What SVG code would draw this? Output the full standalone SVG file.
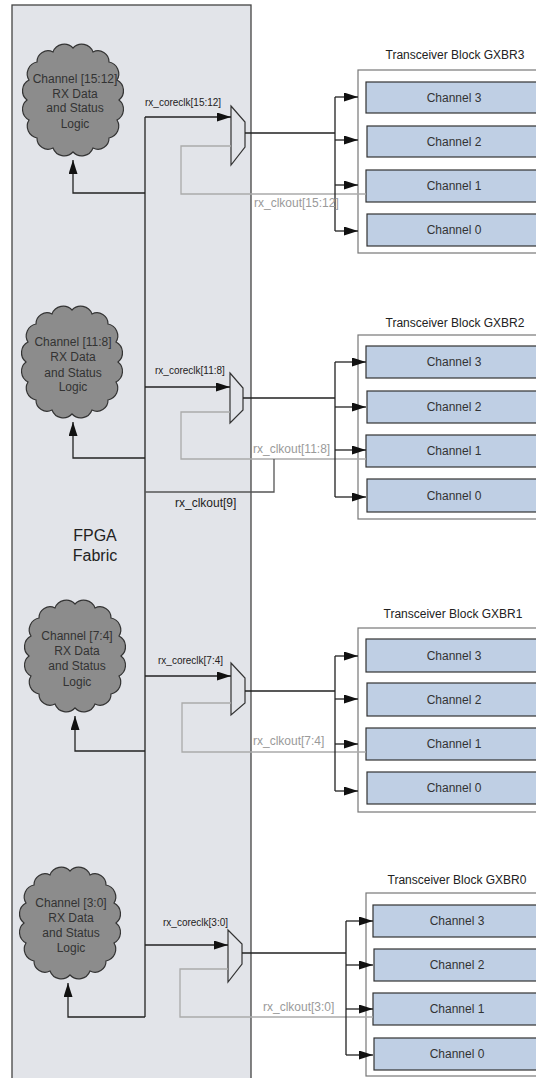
<svg xmlns="http://www.w3.org/2000/svg" xmlns:xlink="http://www.w3.org/1999/xlink" width="536" height="1078" viewBox="0 0 536 1078">
<style>
text{font-family:"Liberation Sans",Arial,sans-serif;}
.cl{font-size:12px;fill:#333;text-anchor:middle;}
.ch{font-size:12px;fill:#333;text-anchor:middle;}
.ti{font-size:12px;fill:#222;text-anchor:middle;}
.lb{font-size:10px;fill:#222;}
.gl{font-size:12px;fill:#9a9a9a;}
.bl{font-size:12px;fill:#222;}
.fab{font-size:16px;fill:#222;text-anchor:middle;}
.cloud{fill:#8c8c8c;stroke:#333;stroke-width:1.2;}
.box{fill:#fff;stroke:#777;stroke-width:1.2;}
.chan{fill:#bfcfe4;stroke:#333;stroke-width:1.2;}
.mux{fill:#e2e4e9;stroke:#333;stroke-width:1.2;}
.k{fill:none;stroke:#222;stroke-width:1.3;}
.g{fill:none;stroke:#aaa;stroke-width:1.3;}
.d{fill:none;stroke:#555;stroke-width:1.3;}
.ka{fill:none;stroke:#222;stroke-width:1.3;marker-end:url(#ah);}
</style>
<defs>
<marker id="ah" markerUnits="userSpaceOnUse" markerWidth="15" markerHeight="9" refX="14" refY="4.5" orient="auto">
<path d="M0,0 L14,4.5 L0,9 z" fill="#111"/>
</marker>
<path id="cloudShape" d="M30,12 A12,12 0 0 1 50,8 A12,12 0 0 1 70,12 A11,11 0 0 1 86,22 A12,12 0 0 1 94,40 A12,12 0 0 1 96,60 A12,12 0 0 1 94,80 A12,12 0 0 1 86,98 A11,11 0 0 1 70,108 A12,12 0 0 1 50,112 A12,12 0 0 1 30,108 A11,11 0 0 1 14,98 A12,12 0 0 1 6,80 A12,12 0 0 1 4,60 A12,12 0 0 1 6,40 A12,12 0 0 1 14,22 A11,11 0 0 1 30,12 Z"/>
</defs>

<g id="fpga">
<rect x="12" y="5" width="239" height="1080" fill="#e2e4e9" stroke="#444" stroke-width="1.3"/>
<text class="fab" x="95" y="541">FPGA</text>
<text class="fab" x="95" y="561">Fabric</text>
</g>

<g id="cloud3">
<use xlink:href="#cloudShape" class="cloud" transform="translate(23,40)"/>
<text class="cl" x="75" y="83">Channel [15:12]</text>
<text class="cl" x="75" y="98">RX Data</text>
<text class="cl" x="75" y="112">and Status</text>
<text class="cl" x="75" y="128">Logic</text>
</g>
<g id="cloud2">
<use xlink:href="#cloudShape" class="cloud" transform="translate(22,302)"/>
<text class="cl" x="73" y="346">Channel [11:8]</text>
<text class="cl" x="73" y="361">RX Data</text>
<text class="cl" x="73" y="377">and Status</text>
<text class="cl" x="73" y="391">Logic</text>
</g>
<g id="cloud1">
<use xlink:href="#cloudShape" class="cloud" transform="translate(25,596)"/>
<text class="cl" x="77" y="640">Channel [7:4]</text>
<text class="cl" x="77" y="655">RX Data</text>
<text class="cl" x="77" y="670">and Status</text>
<text class="cl" x="77" y="686">Logic</text>
</g>
<g id="cloud0">
<use xlink:href="#cloudShape" class="cloud" transform="translate(20,863)"/>
<text class="cl" x="71" y="907">Channel [3:0]</text>
<text class="cl" x="71" y="922">RX Data</text>
<text class="cl" x="71" y="937">and Status</text>
<text class="cl" x="71" y="952">Logic</text>
</g>

<g id="gxbr3">
<text class="ti" x="455" y="59">Transceiver Block GXBR3</text>
<rect class="box" x="358" y="70" width="190" height="183"/>
<rect class="chan" x="366" y="82" width="180" height="31"/>
<rect class="chan" x="367" y="126" width="180" height="31"/>
<rect class="chan" x="366" y="170" width="180" height="32"/>
<rect class="chan" x="367" y="214" width="180" height="32"/>
<text class="ch" x="454" y="102">Channel 3</text>
<text class="ch" x="454" y="146">Channel 2</text>
<text class="ch" x="454" y="190">Channel 1</text>
<text class="ch" x="454" y="234">Channel 0</text>
</g>
<g id="gxbr2">
<text class="ti" x="455" y="327">Transceiver Block GXBR2</text>
<rect class="box" x="358" y="335" width="190" height="184"/>
<rect class="chan" x="366" y="346" width="180" height="32"/>
<rect class="chan" x="367" y="391" width="180" height="32"/>
<rect class="chan" x="366" y="435" width="180" height="32"/>
<rect class="chan" x="367" y="479" width="180" height="33"/>
<text class="ch" x="454" y="366">Channel 3</text>
<text class="ch" x="454" y="411">Channel 2</text>
<text class="ch" x="454" y="455">Channel 1</text>
<text class="ch" x="454" y="500">Channel 0</text>
</g>
<g id="gxbr1">
<text class="ti" x="453" y="618">Transceiver Block GXBR1</text>
<rect class="box" x="358" y="628" width="190" height="184"/>
<rect class="chan" x="366" y="639" width="180" height="33"/>
<rect class="chan" x="367" y="683" width="180" height="33"/>
<rect class="chan" x="366" y="728" width="180" height="32"/>
<rect class="chan" x="367" y="772" width="180" height="32"/>
<text class="ch" x="454" y="660">Channel 3</text>
<text class="ch" x="454" y="704">Channel 2</text>
<text class="ch" x="454" y="748">Channel 1</text>
<text class="ch" x="454" y="792">Channel 0</text>
</g>
<g id="gxbr0">
<text class="ti" x="457" y="884">Transceiver Block GXBR0</text>
<rect class="box" x="366" y="893" width="190" height="183"/>
<rect class="chan" x="373" y="905" width="180" height="32"/>
<rect class="chan" x="374" y="949" width="180" height="32"/>
<rect class="chan" x="373" y="993" width="180" height="32"/>
<rect class="chan" x="374" y="1038" width="180" height="32"/>
<text class="ch" x="457" y="925">Channel 3</text>
<text class="ch" x="457" y="969">Channel 2</text>
<text class="ch" x="457" y="1013">Channel 1</text>
<text class="ch" x="457" y="1058">Channel 0</text>
</g>

<g id="mux3"><polygon class="mux" points="231,106 245,122 245,147 231,165"/></g>
<g id="mux2"><polygon class="mux" points="230,373 243,388 243,410 230,423"/></g>
<g id="mux1"><polygon class="mux" points="231,663 245,678 245,703 231,715"/></g>
<g id="mux0"><polygon class="mux" points="228,930 242,944 242,964 228,982"/></g>

<g id="connectors">
<path class="k" d="M145,117 V1017"/>
<path class="ka" d="M145,117 H231"/>
<path class="ka" d="M145,193 H73 V160"/>
<path class="g" d="M231,146 H181 V194 H366"/>
<path class="k" d="M245,133 H335 M335,97 V231"/>
<path class="ka" d="M335,97 H358"/>
<path class="ka" d="M335,140 H358"/>
<path class="ka" d="M335,185 H358"/>
<path class="ka" d="M335,231 H358"/>
<path class="ka" d="M145,387 H230"/>
<path class="ka" d="M145,458 H73 V422"/>
<path class="g" d="M230,412 H181 V459 H366"/>
<path class="d" d="M145,492 H274 V459"/>
<path class="k" d="M243,398 H335 M335,362 V497"/>
<path class="ka" d="M335,362 H366"/>
<path class="ka" d="M335,407 H366"/>
<path class="ka" d="M335,450 H366"/>
<path class="ka" d="M335,497 H366"/>
<path class="ka" d="M145,676 H231"/>
<path class="ka" d="M145,751 H75 V716"/>
<path class="g" d="M231,703 H182 V752 H366"/>
<path class="k" d="M245,691 H335 M335,656 V791"/>
<path class="ka" d="M335,656 H358"/>
<path class="ka" d="M335,699 H358"/>
<path class="ka" d="M335,744 H358"/>
<path class="ka" d="M335,791 H358"/>
<path class="ka" d="M145,945 H228"/>
<path class="ka" d="M145,1017 H68 V983"/>
<path class="g" d="M228,969 H180 V1017 H373"/>
<path class="k" d="M242,953 H346 M346,921 V1055"/>
<path class="ka" d="M346,921 H373"/>
<path class="ka" d="M346,965 H373"/>
<path class="ka" d="M346,1009 H373"/>
<path class="ka" d="M346,1055 H373"/>
</g>

<g id="labels">
<text class="lb" x="145" y="106">rx_coreclk[15:12]</text>
<text class="gl" x="254" y="207">rx_clkout[15:12]</text>
<text class="lb" x="155" y="374">rx_coreclk[11:8]</text>
<text class="gl" x="253" y="453">rx_clkout[11:8]</text>
<text class="bl" x="175" y="507">rx_clkout[9]</text>
<text class="lb" x="158" y="664">rx_coreclk[7:4]</text>
<text class="gl" x="253" y="745">rx_clkout[7:4]</text>
<text class="lb" x="163" y="926">rx_coreclk[3:0]</text>
<text class="gl" x="263" y="1011">rx_clkout[3:0]</text>
</g>
</svg>
